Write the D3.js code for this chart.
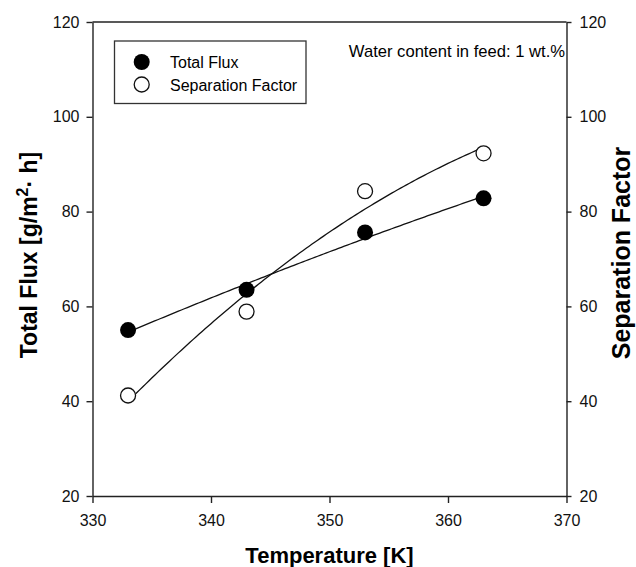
<!DOCTYPE html>
<html>
<head>
<meta charset="utf-8">
<script src="https://cdn.jsdelivr.net/npm/d3@7"></script>
<style>
  body { margin: 0; background: #fff; }
  text { font-family: "Liberation Sans", Arial, sans-serif; }
</style>
</head>
<body>
<div id="root"></div>
<script>
// data
const temperature = [333, 343, 353, 363];
const totalFlux = [55.0, 63.5, 75.6, 82.8];
const sepFactor = [41.2, 58.9, 84.3, 92.3];
const xTicks = [330, 340, 350, 360, 370];
const yTicks = [20, 40, 60, 80, 100, 120];

const W = 636, H = 567;
const margin = { top: 22, right: 69.5, bottom: 71, left: 92.5 };

const svg = d3.select("#root").append("svg")
  .attr("width", W)
  .attr("height", H);

const x = d3.scaleLinear().domain([330, 370]).range([margin.left, W - margin.right]);
const yL = d3.scaleLinear().domain([20, 120]).range([H - margin.bottom, margin.top]);
const yR = d3.scaleLinear().domain([20, 120]).range([H - margin.bottom, margin.top]);

// least squares quadratic fit (the curves in the plot are regression lines)
const quadFit = (xs, ys) => {
  let n = xs.length, sx = 0, sx2 = 0, sx3 = 0, sx4 = 0, sy = 0, sxy = 0, sx2y = 0;
  const x0 = d3.mean(xs);
  xs.forEach((xv, i) => {
    const t = xv - x0, yv = ys[i];
    sx += t; sx2 += t * t; sx3 += t * t * t; sx4 += t * t * t * t;
    sy += yv; sxy += t * yv; sx2y += t * t * yv;
  });
  // solve 3x3 normal equations (Cramer)
  const A = [[n, sx, sx2], [sx, sx2, sx3], [sx2, sx3, sx4]];
  const B = [sy, sxy, sx2y];
  const det = m => m[0][0] * (m[1][1] * m[2][2] - m[1][2] * m[2][1])
    - m[0][1] * (m[1][0] * m[2][2] - m[1][2] * m[2][0])
    + m[0][2] * (m[1][0] * m[2][1] - m[1][1] * m[2][0]);
  const D = det(A);
  const coef = [0, 1, 2].map(k => det(A.map((row, r) => row.map((v, c) => c === k ? B[r] : v))) / D);
  return xv => { const t = xv - x0; return coef[0] + coef[1] * t + coef[2] * t * t; };
};

const axisColor = "#222";

// frame top line
svg.append("line")
  .attr("x1", x(330)).attr("x2", x(370))
  .attr("y1", yL(120)).attr("y2", yL(120))
  .attr("stroke", axisColor).attr("stroke-width", 1.4);

const styleAxis = g => {
  g.select(".domain").attr("stroke", axisColor).attr("stroke-width", 1.4);
  g.selectAll(".tick line").attr("stroke", axisColor).attr("stroke-width", 1.4);
  g.selectAll(".tick text").attr("fill", "#111").style("font-size", "16px")
    .style("font-family", "'Liberation Sans', Arial, sans-serif");
};

svg.append("g")
  .attr("transform", "translate(0," + (H - margin.bottom) + ")")
  .call(d3.axisBottom(x).tickValues(xTicks).tickFormat(d3.format("d")).tickSize(7).tickSizeOuter(0).tickPadding(12))
  .call(styleAxis);

svg.append("g")
  .attr("transform", "translate(" + margin.left + ",0)")
  .call(d3.axisLeft(yL).tickValues(yTicks).tickFormat(d3.format("d")).tickSize(6).tickSizeOuter(0).tickPadding(7))
  .call(styleAxis);

svg.append("g")
  .attr("transform", "translate(" + (W - margin.right) + ",0)")
  .call(d3.axisRight(yR).tickValues(yTicks).tickFormat(d3.format("d")).tickSize(5).tickSizeOuter(0).tickPadding(8))
  .call(styleAxis);

// fit curves
const line = d3.line().x(d => x(d[0]));
const fluxFit = quadFit(temperature, totalFlux);
const sepFit = quadFit(temperature, sepFactor);
const xs = d3.range(temperature[0], temperature[temperature.length - 1] + 0.001, 0.25);

svg.append("path")
  .attr("d", line.y(d => yL(d[1]))(xs.map(v => [v, fluxFit(v)])))
  .attr("fill", "none").attr("stroke", "#111").attr("stroke-width", 1.3);

svg.append("path")
  .attr("d", line.y(d => yR(d[1]))(xs.map(v => [v, sepFit(v)])))
  .attr("fill", "none").attr("stroke", "#111").attr("stroke-width", 1.3);

// markers
svg.selectAll(".flux").data(temperature).enter().append("circle")
  .attr("class", "flux")
  .attr("cx", d => x(d)).attr("cy", (d, i) => yL(totalFlux[i]))
  .attr("r", 8).attr("fill", "#000");

svg.selectAll(".sep").data(temperature).enter().append("circle")
  .attr("class", "sep")
  .attr("cx", d => x(d)).attr("cy", (d, i) => yR(sepFactor[i]))
  .attr("r", 7.5).attr("fill", "#fff").attr("stroke", "#111").attr("stroke-width", 1.3);

// legend
const lg = svg.append("g");
lg.append("rect")
  .attr("x", 114.5).attr("y", 41).attr("width", 191.5).attr("height", 62.5)
  .attr("fill", "#fff").attr("stroke", "#333").attr("stroke-width", 1.3);
lg.append("circle").attr("cx", 141.7).attr("cy", 62).attr("r", 8).attr("fill", "#000");
lg.append("circle").attr("cx", 141.7).attr("cy", 84.5).attr("r", 7.5)
  .attr("fill", "#fff").attr("stroke", "#111").attr("stroke-width", 1.3);
lg.append("text").attr("x", 170).attr("y", 67.5).style("font-size", "16px").text("Total Flux");
lg.append("text").attr("x", 170).attr("y", 90.5).style("font-size", "16px").text("Separation Factor");

// note
svg.append("text").attr("x", 565).attr("y", 57).attr("text-anchor", "end").style("font-size", "16.6px")
  .text("Water content in feed: 1 wt.%");

// axis titles
svg.append("text")
  .attr("x", x(350)).attr("y", 563)
  .attr("text-anchor", "middle")
  .style("font-size", "22px").style("font-weight", "bold")
  .text("Temperature [K]");

const lt = svg.append("text")
  .attr("transform", "translate(37," + 255 + ") rotate(-90)")
  .attr("text-anchor", "middle")
  .style("font-size", "23px").style("font-weight", "bold");
lt.append("tspan").text("Total Flux [g/m");
lt.append("tspan").attr("dy", -9).style("font-size", "16px").text("2");
lt.append("tspan").attr("dy", 9).text("\u00b7  h]");

svg.append("text")
  .attr("transform", "translate(630," + 253 + ") rotate(-90)")
  .attr("text-anchor", "middle")
  .style("font-size", "25px").style("font-weight", "bold")
  .text("Separation Factor");
</script>
</body>
</html>
